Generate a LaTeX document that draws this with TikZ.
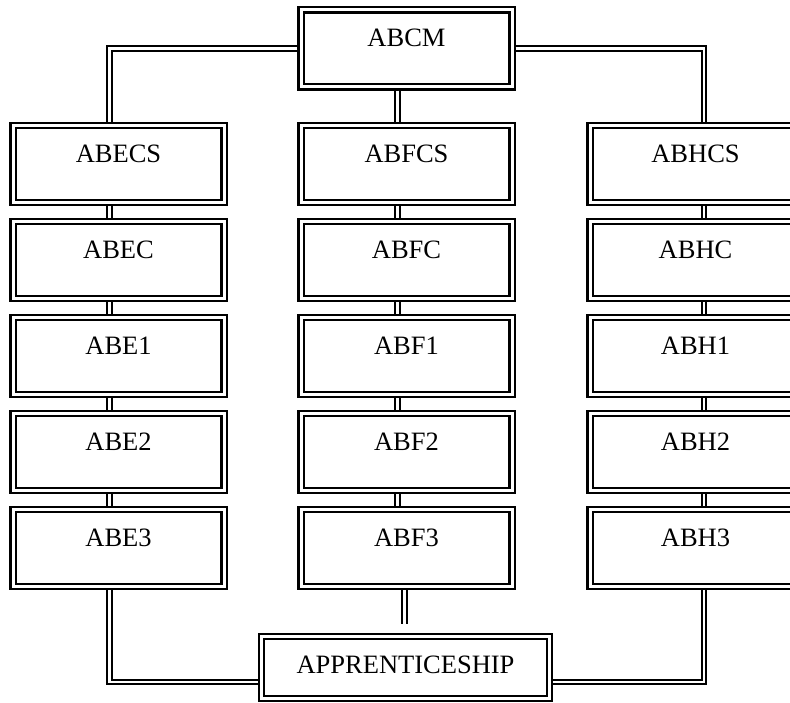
\documentclass[tikz,border=0pt]{standalone}
\usepackage{fontspec}
\setmainfont{Liberation Serif}
\usetikzlibrary{positioning}

\begin{document}
\begin{tikzpicture}[
		x=1pt, y=-1pt,
		node distance=11.6pt,
		every node/.style={draw, double, line width=2.2pt, double distance=3pt, inner sep=0pt, outer sep=3.7pt, font=\fontsize{26.5}{31}\selectfont},
		course/.style={minimum width=211pt, text height=37pt, text depth=40pt},
		final/.style={minimum width=288pt, text height=37pt, text depth=25pt},
		link/.style={double, line width=2pt, double distance=2.5pt}
		]
	\useasboundingbox (0,0) rectangle (790,703);

		% top
		\node[course] at (406.5,48.5) (abcm) {ABCM};

		% left column
		\node[course] at (118.5,164) (abecs) {ABECS};
		\node[course, below = of abecs] (abec) {ABEC};
		\node[course, below = of abec] (abe1) {ABE1};
		\node[course, below = of abe1] (abe2) {ABE2};
		\node[course, below = of abe2] (abe3) {ABE3};

		% middle column
		\node[course] at (406.5,164) (abfcs) {ABFCS};
		\node[course, below = of abfcs] (abfc) {ABFC};
		\node[course, below = of abfc] (abf1) {ABF1};
		\node[course, below = of abf1] (abf2) {ABF2};
		\node[course, below = of abf2] (abf3) {ABF3};

		% right column
		\node[course] at (695.5,164) (abhcs) {ABHCS};
		\node[course, below = of abhcs] (abhc) {ABHC};
		\node[course, below = of abhc] (abh1) {ABH1};
		\node[course, below = of abh1] (abh2) {ABH2};
		\node[course, below = of abh2] (abh3) {ABH3};

		% bottom
		\node[final] at (405.5,667.5) (app) {APPRENTICESHIP};
		\coordinate (stubend) at ([xshift=-2pt, yshift=-33.5pt]abf3.south);

		% links
		\draw[link] (abcm.west) -| ([xshift=-9pt]abecs.north);
		\draw[link] ([xshift=-9pt]abcm.south) -- ([xshift=-9pt]abfcs.north);
		\draw[link] (abcm.east) -| ([xshift=8.5pt]abhcs.north);
		\foreach \c/\s in {e/-9, f/-9, h/8.5}
			\foreach \a/\b in {cs/c, c/1, 1/2, 2/3}
				\draw[link] ([xshift=\s pt]ab\c\a.south) -- ([xshift=\s pt]ab\c\b.north);
		\draw[link] ([xshift=-9pt]abe3.south) |- ([yshift=-14.5pt]app.west);
		\draw[link] ([xshift=-2pt]abf3.south) -- (stubend);
		\draw[link] ([xshift=8.5pt]abh3.south) |- ([yshift=-14.5pt]app.east);

	\end{tikzpicture}
\end{document}
